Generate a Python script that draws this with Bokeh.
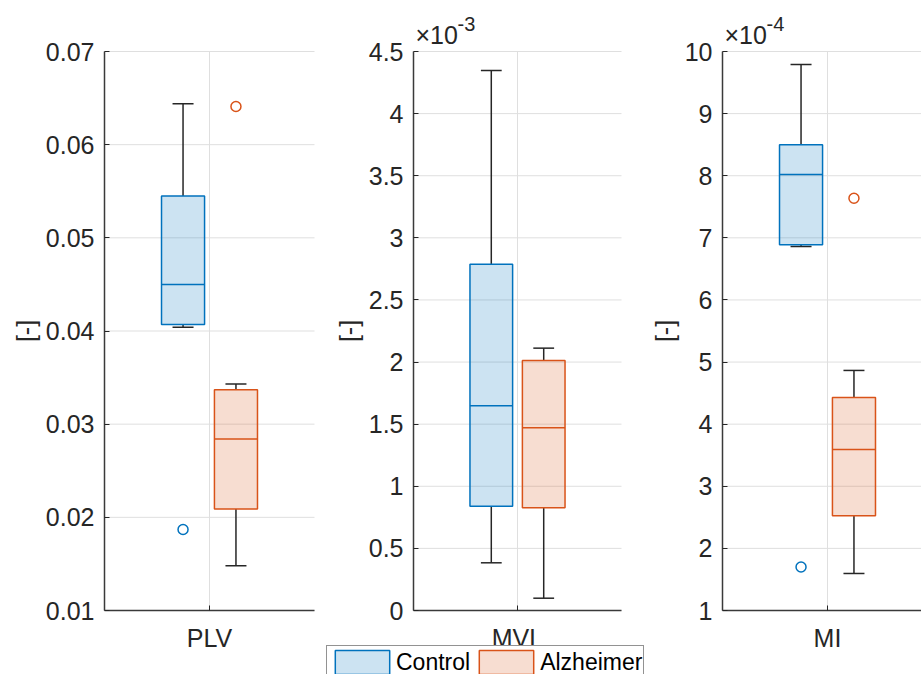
from bokeh.plotting import figure
from bokeh.models import (Range1d, FixedTicker, CustomJSTickFormatter, Label,
                          Legend, LegendItem, ColumnDataSource, LinearAxis)
from bokeh.embed import file_html
from bokeh.resources import INLINE

# ---- data -----------------------------------------------------------------
metrics = ["PLV", "MVL", "MI"]
groups = ["Control", "Alzheimer"]

# box statistics per metric, ordered [Control, Alzheimer]
plv_low = [0.0404, 0.0148]
plv_q1 = [0.0407, 0.0209]
plv_median = [0.0450, 0.0284]
plv_q3 = [0.0545, 0.0337]
plv_high = [0.0644, 0.0343]
plv_outliers = [[0.0187], [0.0641]]

mvl_low = [0.000384, 0.000099]
mvl_q1 = [0.000840, 0.000827]
mvl_median = [0.001648, 0.001471]
mvl_q3 = [0.002788, 0.002013]
mvl_high = [0.004347, 0.002112]
mvl_outliers = [[], []]

mi_low = [0.000686, 0.0001596]
mi_q1 = [0.0006887, 0.0002525]
mi_median = [0.000802, 0.0003593]
mi_q3 = [0.000850, 0.000443]
mi_high = [0.000979, 0.0004865]
mi_outliers = [[0.000170], [0.0007638]]

# y-axis ticks and the power of ten shown above each axis
plv_ticks = [0.01, 0.02, 0.03, 0.04, 0.05, 0.06, 0.07]
mvl_ticks = [0.0, 0.0005, 0.001, 0.0015, 0.002, 0.0025, 0.003, 0.0035, 0.004, 0.0045]
mi_ticks = [0.0001, 0.0002, 0.0003, 0.0004, 0.0005, 0.0006, 0.0007, 0.0008, 0.0009, 0.001]
exponents = [0, -3, -4]

# ---- styling / layout -----------------------------------------------------
FONT = "Liberation Sans"
INK = "#262626"
EDGE = ["#0072BD", "#D95319"]
GRID = "#dfdfdf"
W, H = 921, 674
AX_TOP, AX_BOTTOM = 51, 610          # px from the top of the canvas
AX_LEFT = [104, 413, 722]            # left edge of each axes box
AX_WIDTH = [210, 208, 210]
OFFSET = 0.126                       # group dodge from the category centre
BOX_W = 0.205
CAP_W = 0.10

stats = {
    "PLV": (plv_low, plv_q1, plv_median, plv_q3, plv_high, plv_outliers, plv_ticks),
    "MVL": (mvl_low, mvl_q1, mvl_median, mvl_q3, mvl_high, mvl_outliers, mvl_ticks),
    "MI": (mi_low, mi_q1, mi_median, mi_q3, mi_high, mi_outliers, mi_ticks),
}

# one canvas; every panel gets its own pair of ranges
p = figure(width=W, height=H, output_backend="svg", toolbar_location=None,
           x_range=Range1d(0, W), y_range=Range1d(0, H),
           x_axis_type=None, y_axis_type=None, min_border=0)
p.outline_line_color = None
p.background_fill_color = "white"
p.border_fill_color = "white"


def style_axis(ax):
    ax.axis_line_color = "#3a3a3a"
    ax.axis_line_width = 1.5
    ax.major_tick_line_color = INK
    ax.major_tick_in = 5
    ax.major_tick_out = 0
    ax.minor_tick_line_color = None
    ax.major_label_text_font = FONT
    ax.major_label_text_font_size = "25px"
    ax.major_label_text_color = INK


legend_boxes = None
for i, name in enumerate(metrics):
    low, q1, med, q3, high, outl, ticks = stats[name]
    lo, hi = ticks[0], ticks[-1]
    xn, yn = "x_" + name, "y_" + name

    per_px_y = (hi - lo) / (AX_BOTTOM - AX_TOP)
    p.extra_y_ranges[yn] = Range1d(lo - (H - AX_BOTTOM) * per_px_y, hi + AX_TOP * per_px_y)
    per_px_x = 1.0 / AX_WIDTH[i]
    x0 = 0.5 - AX_LEFT[i] * per_px_x
    p.extra_x_ranges[xn] = Range1d(x0, x0 + W * per_px_x)
    rng = dict(x_range_name=xn, y_range_name=yn)

    # grid
    p.segment(x0=[0.5] * len(ticks), y0=ticks, x1=[1.5] * len(ticks), y1=ticks,
              line_color=GRID, line_width=1, **rng)
    p.segment(x0=[1], y0=[lo], x1=[1], y1=[hi], line_color=GRID, line_width=1, **rng)

    # axes
    scale = 10.0 ** exponents[i]
    yax = LinearAxis(fixed_location=0.5, bounds=(lo, hi), ticker=FixedTicker(ticks=ticks),
                     formatter=CustomJSTickFormatter(
                         args=dict(scale=scale),
                         code="return String(+(tick / scale).toFixed(6));"),
                     axis_label="[-]", **rng)
    style_axis(yax)
    yax.major_label_standoff = 10
    yax.axis_label_text_font = FONT
    yax.axis_label_text_font_size = "25px"
    yax.axis_label_text_font_style = "normal"
    yax.axis_label_text_color = INK
    yax.axis_label_standoff = 3
    p.add_layout(yax, "left")

    xax = LinearAxis(fixed_location=lo, bounds=(0.5, 1.5), ticker=FixedTicker(ticks=[1]),
                     major_label_overrides={1: name}, **rng)
    style_axis(xax)
    xax.major_label_standoff = 13
    p.add_layout(xax, "below")

    boxes = []
    for g in range(2):
        xc = 1 + (2 * g - 1) * OFFSET
        src = ColumnDataSource(dict(x=[xc], low=[low[g]], q1=[q1[g]], med=[med[g]],
                                    q3=[q3[g]], high=[high[g]]))
        # whiskers and caps
        p.segment(x0="x", y0="q3", x1="x", y1="high", source=src, line_color=INK,
                  line_width=1.5, **rng)
        p.segment(x0="x", y0="q1", x1="x", y1="low", source=src, line_color=INK,
                  line_width=1.5, **rng)
        p.segment(x0=[xc - CAP_W / 2] * 2, y0=[high[g], low[g]],
                  x1=[xc + CAP_W / 2] * 2, y1=[high[g], low[g]],
                  line_color=INK, line_width=1.5, **rng)
        # box and median
        box = p.vbar(x="x", width=BOX_W, top="q3", bottom="q1", source=src,
                     fill_color=EDGE[g], fill_alpha=0.2, line_color=EDGE[g],
                     line_width=1.5, **rng)
        p.segment(x0=[xc - BOX_W / 2], y0=[med[g]], x1=[xc + BOX_W / 2], y1=[med[g]],
                  line_color=EDGE[g], line_width=1.5, **rng)
        if outl[g]:
            p.scatter(x=[xc] * len(outl[g]), y=outl[g], marker="circle", size=10,
                      fill_color=None, line_color=EDGE[g], line_width=1.5, **rng)
        boxes.append(box)
    if legend_boxes is None:
        legend_boxes = boxes

    # power-of-ten multiplier above the axis
    if exponents[i] != 0:
        p.add_layout(Label(x=0.5, y=hi, x_offset=2, y_offset=17, text="\u00d710",
                           text_font=FONT, text_font_size="25px", text_color=INK,
                           text_baseline="alphabetic", **rng))
        p.add_layout(Label(x=0.5, y=hi, x_offset=44, y_offset=28,
                           text=str(exponents[i]), text_font=FONT,
                           text_font_size="20px", text_color=INK,
                           text_baseline="alphabetic", **rng))

legend = Legend(items=[LegendItem(label=groups[g], renderers=[legend_boxes[g]]) for g in range(2)],
                orientation="horizontal", location=(326, -5),
                glyph_width=68, glyph_height=30, label_standoff=0, spacing=2,
                padding=1, margin=0,
                label_text_font=FONT, label_text_font_size="23px", label_text_color="black",
                border_line_color=INK, border_line_width=1,
                background_fill_color="white", background_fill_alpha=1.0)
p.add_layout(legend, "center")

open("out.html", "w").write(file_html(p, INLINE))
